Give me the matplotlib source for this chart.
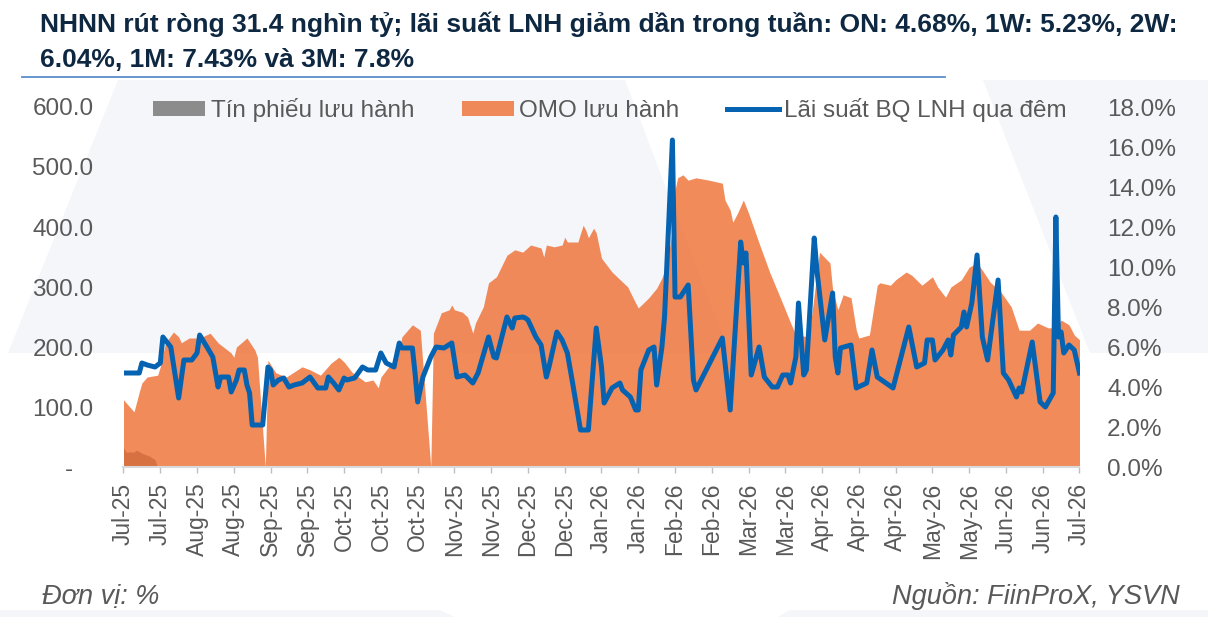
import matplotlib
matplotlib.use('Agg')
import matplotlib.pyplot as plt
import matplotlib.dates as mdates
from matplotlib.lines import Line2D
from matplotlib.patches import Patch, Polygon
from matplotlib.ticker import FuncFormatter
import pandas as pd

W, H = 1208, 617

TITLE_1 = 'NHNN rút ròng 31.4 nghìn tỷ; lãi suất LNH giảm dần trong tuần: ON: 4.68%, 1W: 5.23%, 2W:'
TITLE_2 = '6.04%, 1M: 7.43% và 3M: 7.8%'
UNIT = 'Đơn vị: %'
SOURCE = 'Nguồn: FiinProX, YSVN'
LABELS = ['Tín phiếu lưu hành', 'OMO lưu hành', 'Lãi suất BQ LNH qua đêm']

# Tín phiếu lưu hành (nghìn tỷ)
bill_dates = ['2025-07-10', '2025-07-11', '2025-07-14', '2025-07-15', '2025-07-17',
              '2025-07-20', '2025-07-22', '2025-07-23']
bill_vals = [32, 25, 25, 28, 23, 18, 12, 0]

# OMO lưu hành (nghìn tỷ)
omo_dates = [
    '2025-07-10', '2025-07-14', '2025-07-16', '2025-07-17', '2025-07-19', '2025-07-23',
    '2025-07-24', '2025-07-26', '2025-07-29', '2025-07-31', '2025-08-01', '2025-08-04',
    '2025-08-08', '2025-08-12', '2025-08-15', '2025-08-20', '2025-08-21', '2025-08-22',
    '2025-08-26', '2025-08-29', '2025-08-30', '2025-09-02', '2025-09-03', '2025-09-06',
    '2025-09-10', '2025-09-16', '2025-09-19', '2025-09-23', '2025-09-27', '2025-09-30',
    '2025-10-02', '2025-10-05', '2025-10-10', '2025-10-13', '2025-10-15', '2025-10-16',
    '2025-10-19', '2025-10-22', '2025-10-24', '2025-10-28', '2025-10-31', '2025-11-04',
    '2025-11-05', '2025-11-08', '2025-11-11', '2025-11-12', '2025-11-13', '2025-11-16',
    '2025-11-18', '2025-11-20', '2025-11-21', '2025-11-24', '2025-11-26', '2025-11-29',
    '2025-12-03', '2025-12-06', '2025-12-09', '2025-12-12', '2025-12-16', '2025-12-17',
    '2025-12-18', '2025-12-21', '2025-12-24', '2025-12-25', '2025-12-26', '2025-12-30',
    '2026-01-01', '2026-01-02', '2026-01-03', '2026-01-05', '2026-01-06', '2026-01-08',
    '2026-01-12', '2026-01-18', '2026-01-20', '2026-01-22', '2026-01-26', '2026-01-29',
    '2026-01-31', '2026-02-02', '2026-02-04', '2026-02-05', '2026-02-06', '2026-02-08',
    '2026-02-10', '2026-02-13', '2026-02-18', '2026-02-23', '2026-02-24', '2026-02-26',
    '2026-02-27', '2026-03-01', '2026-03-03', '2026-03-05', '2026-03-09', '2026-03-13',
    '2026-03-17', '2026-03-21', '2026-03-23', '2026-03-28', '2026-04-01', '2026-04-05',
    '2026-04-06', '2026-04-08', '2026-04-10', '2026-04-13', '2026-04-15', '2026-04-16',
    '2026-04-20', '2026-04-23', '2026-04-24', '2026-04-28', '2026-04-30', '2026-05-04',
    '2026-05-06', '2026-05-10', '2026-05-14', '2026-05-16', '2026-05-19', '2026-05-21',
    '2026-05-25', '2026-05-28', '2026-05-31', '2026-06-02', '2026-06-05', '2026-06-09',
    '2026-06-13', '2026-06-16', '2026-06-20', '2026-06-23', '2026-06-27', '2026-06-30',
    '2026-07-02', '2026-07-05', '2026-07-07', '2026-07-09']
omo_vals = [
    112, 92, 125, 140, 150, 153,
    167, 207, 225, 217, 207, 215,
    215, 223, 207, 190, 183, 200,
    215, 195, 183, 0, 178, 157,
    150, 167, 162, 153, 173, 183,
    175, 158, 142, 145, 132, 150,
    167, 173, 217, 237, 228, 0,
    223, 257, 262, 270, 262, 258,
    250, 223, 240, 267, 307, 317,
    353, 362, 358, 370, 365, 350,
    370, 367, 370, 383, 375, 375,
    403, 395, 382, 398, 390, 348,
    325, 300, 282, 265, 282, 298,
    315, 340, 395, 462, 482, 487,
    478, 482, 478, 473, 445, 428,
    408, 425, 445, 423, 373, 325,
    283, 240, 220, 217, 358, 340,
    295, 262, 287, 282, 228, 215,
    220, 303, 307, 303, 312, 325,
    320, 303, 317, 300, 283, 300,
    312, 333, 340, 328, 308, 292,
    267, 228, 228, 240, 232, 232,
    245, 237, 220, 212]

# Lãi suất BQ LNH qua đêm (%)
rate_dates = [
    '2025-07-10', '2025-07-16', '2025-07-17', '2025-07-19', '2025-07-22', '2025-07-24',
    '2025-07-25', '2025-07-28', '2025-07-31', '2025-08-02', '2025-08-05', '2025-08-07',
    '2025-08-08', '2025-08-11', '2025-08-13', '2025-08-15', '2025-08-16', '2025-08-19',
    '2025-08-20', '2025-08-22', '2025-08-23', '2025-08-25', '2025-08-26', '2025-08-27',
    '2025-08-28', '2025-09-01', '2025-09-03', '2025-09-04', '2025-09-05', '2025-09-07',
    '2025-09-09', '2025-09-11', '2025-09-13', '2025-09-16', '2025-09-19', '2025-09-22',
    '2025-09-25', '2025-09-26', '2025-09-28', '2025-09-30', '2025-10-02', '2025-10-03',
    '2025-10-06', '2025-10-09', '2025-10-11', '2025-10-14', '2025-10-16', '2025-10-18',
    '2025-10-21', '2025-10-23', '2025-10-24', '2025-10-28', '2025-10-29', '2025-10-30',
    '2025-11-01', '2025-11-04', '2025-11-06', '2025-11-09', '2025-11-12', '2025-11-14',
    '2025-11-17', '2025-11-20', '2025-11-22', '2025-11-26', '2025-11-28', '2025-11-29',
    '2025-12-03', '2025-12-05', '2025-12-06', '2025-12-09', '2025-12-10', '2025-12-11',
    '2025-12-14', '2025-12-16', '2025-12-18', '2025-12-19', '2025-12-22', '2025-12-24',
    '2025-12-26', '2025-12-28', '2025-12-31', '2026-01-03', '2026-01-06', '2026-01-08',
    '2026-01-09', '2026-01-12', '2026-01-15', '2026-01-16', '2026-01-19', '2026-01-21',
    '2026-01-22', '2026-01-23', '2026-01-26', '2026-01-28', '2026-01-29', '2026-01-31',
    '2026-02-01', '2026-02-04', '2026-02-05', '2026-02-07', '2026-02-10', '2026-02-12',
    '2026-02-13', '2026-02-23', '2026-02-26', '2026-03-02', '2026-03-03', '2026-03-04',
    '2026-03-06', '2026-03-09', '2026-03-11', '2026-03-14', '2026-03-16', '2026-03-18',
    '2026-03-20', '2026-03-21', '2026-03-23', '2026-03-24', '2026-03-26', '2026-03-27',
    '2026-03-30', '2026-03-31', '2026-04-01', '2026-04-03', '2026-04-06', '2026-04-07',
    '2026-04-08', '2026-04-09', '2026-04-13', '2026-04-15', '2026-04-19', '2026-04-21',
    '2026-04-23', '2026-04-29', '2026-05-05', '2026-05-08', '2026-05-11', '2026-05-12',
    '2026-05-14', '2026-05-15', '2026-05-18', '2026-05-20', '2026-05-21', '2026-05-22',
    '2026-05-25', '2026-05-26', '2026-05-27', '2026-05-29', '2026-05-31', '2026-06-02',
    '2026-06-04', '2026-06-08', '2026-06-10', '2026-06-12', '2026-06-15', '2026-06-16',
    '2026-06-17', '2026-06-21', '2026-06-24', '2026-06-26', '2026-06-29', '2026-06-30',
    '2026-07-01', '2026-07-02', '2026-07-03', '2026-07-05', '2026-07-07', '2026-07-09']
rate_vals = [
    4.7, 4.7, 5.2, 5.1, 5.0, 5.2,
    6.5, 6.0, 3.45, 5.35, 5.35, 5.7,
    6.6, 5.95, 5.5, 4.0, 4.5, 4.5,
    3.75, 4.35, 4.85, 4.85, 4.1, 3.7,
    2.1, 2.1, 5.0, 4.85, 4.1, 4.35,
    4.45, 4.0, 4.1, 4.2, 4.5, 3.95,
    3.95, 4.5, 4.2, 3.85, 4.45, 4.35,
    4.45, 5.0, 4.85, 4.85, 5.7, 5.2,
    5.0, 6.2, 5.95, 5.95, 4.7, 3.25,
    4.5, 5.5, 6.0, 5.95, 6.2, 4.5,
    4.6, 4.2, 4.7, 6.5, 5.5, 5.45,
    7.5, 6.95, 7.45, 7.5, 7.45, 7.35,
    6.5, 6.1, 4.5, 5.0, 6.75, 6.35,
    5.7, 4.2, 1.85, 1.85, 6.95, 5.0,
    3.2, 3.95, 4.2, 3.85, 3.5, 2.85,
    2.85, 4.85, 5.85, 6.0, 4.1, 6.0,
    7.5, 16.35, 8.5, 8.5, 9.1, 4.35,
    3.85, 6.45, 2.85, 11.25, 10.2, 10.7,
    4.6, 6.0, 4.5, 4.0, 4.0, 4.6,
    4.6, 4.2, 5.5, 8.2, 4.6, 4.85,
    11.45, 9.85, 8.7, 6.35, 8.7, 5.5,
    4.7, 5.95, 6.1, 3.95, 4.2, 5.85,
    4.5, 3.95, 7.0, 5.0, 5.2, 6.35,
    6.35, 5.35, 5.85, 6.35, 5.6, 6.6,
    7.0, 7.75, 7.0, 8.2, 10.6, 6.5,
    5.35, 9.35, 4.7, 4.35, 3.5, 3.95,
    3.75, 6.25, 3.25, 3.0, 3.7, 12.5,
    6.5, 6.75, 5.7, 6.1, 5.85, 4.7]

GREY = '#8C8C8C'
ORANGE = '#EE6A2C'
BLUE = '#0563B1'
TXT = '#595959'
NAVY = '#0E2841'
WATERMARK = '#F4F6FA'


def px(x, y):
    # pixel position -> figure fraction
    return x / W, 1 - y / H


fig = plt.figure(figsize=(W / 100, H / 100), dpi=100, facecolor='white')
plt.rcParams['font.family'] = ['Liberation Sans', 'DejaVu Sans']

# faint logo shapes in the background
for shape in ([(8, 353), (118, 80), (625, 80), (729, 353)],
              [(983, 80), (1208, 80), (1208, 353), (1090, 353)],
              [(0, 610), (440, 610), (455, 617), (0, 617)],
              [(790, 610), (1208, 610), (1208, 617), (778, 617)]):
    fig.patches.append(Polygon([px(*p) for p in shape], closed=True, transform=fig.transFigure,
                               facecolor=WATERMARK, edgecolor='none', zorder=-5))

x0, y0 = px(123.5, 467)
x1, y1 = px(1079.5, 107)
ax = fig.add_axes([x0, y0, x1 - x0, y1 - y0])
ax2 = ax.twinx()
for a in (ax, ax2):
    a.patch.set_visible(False)
    for s in a.spines.values():
        s.set_visible(False)

bill_x = pd.to_datetime(bill_dates)
omo_x = pd.to_datetime(omo_dates)
rate_x = pd.to_datetime(rate_dates)

ax.fill_between(bill_x, 0, bill_vals, color=GREY, lw=0, zorder=1)
ax.fill_between(omo_x, 0, omo_vals, color=ORANGE, alpha=0.78, lw=0, zorder=2)
ax2.plot(rate_x, rate_vals, color=BLUE, lw=3.6, solid_joinstyle='round', zorder=3)

ax.set_ylim(0, 600)
ax.set_yticks(range(0, 601, 100))
ax.yaxis.set_major_formatter(FuncFormatter(lambda v, p: '-   ' if v == 0 else f'{v:.1f}'))
ax2.set_ylim(0, 18)
ax2.set_yticks(range(0, 19, 2))
ax2.yaxis.set_major_formatter(FuncFormatter(lambda v, p: f'{v:.1f}%'))

ticks = pd.date_range('2025-07-10', periods=27, freq='14D')
ax.set_xlim(pd.Timestamp('2025-07-10'), pd.Timestamp('2026-07-09'))
ax.set_xticks(ticks)
ax.xaxis.set_major_formatter(mdates.DateFormatter('%b-%y'))
ax.spines['bottom'].set_visible(True)
ax.spines['bottom'].set_color('#D9D9D9')
ax.spines['bottom'].set_linewidth(1.5)
ax.spines['bottom'].set_zorder(4)

ax.tick_params(axis='x', length=4.3, width=1, color='#BFBFBF', pad=7, labelsize=16.5,
               labelcolor=TXT, labelrotation=90)
ax.tick_params(axis='y', length=0, pad=21.6, labelsize=17.5, labelcolor=TXT)
ax2.tick_params(axis='y', length=0, pad=19.8, labelsize=17.5, labelcolor=TXT)

handles = [Patch(facecolor=GREY, edgecolor='none'),
           Patch(facecolor=ORANGE, alpha=0.78, edgecolor='none'),
           Line2D([], [], color=BLUE, lw=3.6)]
ax2.legend(handles, LABELS, ncol=3, loc='center left', bbox_to_anchor=px(153, 110),
           bbox_transform=fig.transFigure, frameon=False, fontsize=17.5, labelcolor=TXT,
           handlelength=2.15, handleheight=0.6, handletextpad=0.22, columnspacing=1.95,
           borderpad=0, borderaxespad=0)

# title, separator and footer
title_font = ['Liberation Sans Narrow', 'Liberation Sans', 'DejaVu Sans']
fig.text(*px(40, 32), TITLE_1, family=title_font, weight='bold', fontsize=19, color=NAVY, va='baseline')
fig.text(*px(40, 67), TITLE_2, family=title_font, weight='bold', fontsize=19, color=NAVY, va='baseline')
fig.add_artist(Line2D([22 / W, 945 / W], [1 - 77 / H] * 2, transform=fig.transFigure,
                      color='#5B8FC9', lw=1.3))
fig.text(*px(42, 604), UNIT, style='italic', fontsize=19.5, color=TXT, va='baseline')
fig.text(*px(1180, 604), SOURCE, style='italic', fontsize=19.5, color=TXT, va='baseline', ha='right')

fig.savefig('out.png', dpi=100, facecolor='white')
